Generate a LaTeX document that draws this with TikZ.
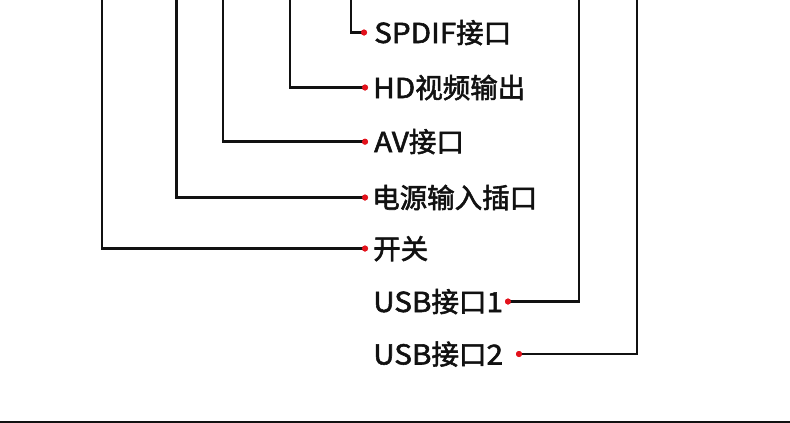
\documentclass[tikz,border=0pt]{standalone}
\usepackage{fontspec}
\setmainfont{Noto Sans CJK SC}[FakeBold=2]
\newfontfamily\latf{Noto Sans CJK SC}[FakeBold=2,FakeStretch=1.08]
\newcommand{\lt}[1]{{\latf #1}}
\definecolor{dotred}{HTML}{E3121C}
\definecolor{ink}{HTML}{111111}
\begin{document}
\begin{tikzpicture}[x=1pt,y=-1pt,
  conn/.style={draw=ink,line width=2.6pt},
  reddot/.style={circle,fill=dotred,inner sep=0pt,minimum size=6pt},
  lbl/.style={anchor=base west,inner sep=0pt,text=ink,font=\fontsize{27.5}{32}\selectfont}]
\useasboundingbox (0,0) rectangle (790,423);
% top ends of connectors
\coordinate (t1) at (351,-2);
\coordinate (t2) at (290,-2);
\coordinate (t3) at (223,-2);
\coordinate (t4) at (176.5,-2);
\coordinate (t5) at (102,-2);
\coordinate (t6) at (579,-2);
\coordinate (t7) at (637,-2);
% dots
\node[reddot] (d1) at (364,32.5) {};
\node[reddot] (d2) at (365,87.5) {};
\node[reddot] (d3) at (365,141.7) {};
\node[reddot] (d4) at (365,197.5) {};
\node[reddot] (d5) at (365,248.5) {};
\node[reddot] (d6) at (508,301.5) {};
\node[reddot] (d7) at (519,354) {};
% labels
\node[lbl] (l1) at (374,43) {\lt{SPDIF}接口};
\node[lbl] (l2) at (373,98) {\lt{HD}视频输出};
\node[lbl] (l3) at (374,152) {\lt{AV}接口};
\node[lbl] (l4) at (372,208) {电源输入插口};
\node[lbl] (l5) at (373,259) {开关};
\node[lbl] (l6) at (373,312) {\lt{USB}接口\lt{1}};
\node[lbl] (l7) at (373,364.5) {\lt{USB}接口\lt{2}};
% connectors
\draw[conn] (t1) |- (d1.center);
\draw[conn] (t2) |- (d2.center);
\draw[conn] (t3) |- (d3.center);
\draw[conn] (t4) |- (d4.center);
\draw[conn] (t5) |- (d5.center);
\draw[conn] (t6) |- (d6.center);
\draw[conn] (t7) |- (d7.center);
\node[reddot] at (d1) {};
\node[reddot] at (d2) {};
\node[reddot] at (d3) {};
\node[reddot] at (d4) {};
\node[reddot] at (d5) {};
\node[reddot] at (d6) {};
\node[reddot] at (d7) {};
% bottom rule
\coordinate (bl) at (0,422);
\coordinate (br) at (790,422);
\draw[draw=ink,line width=2.8pt] (bl) -- (br);
\end{tikzpicture}
\end{document}
